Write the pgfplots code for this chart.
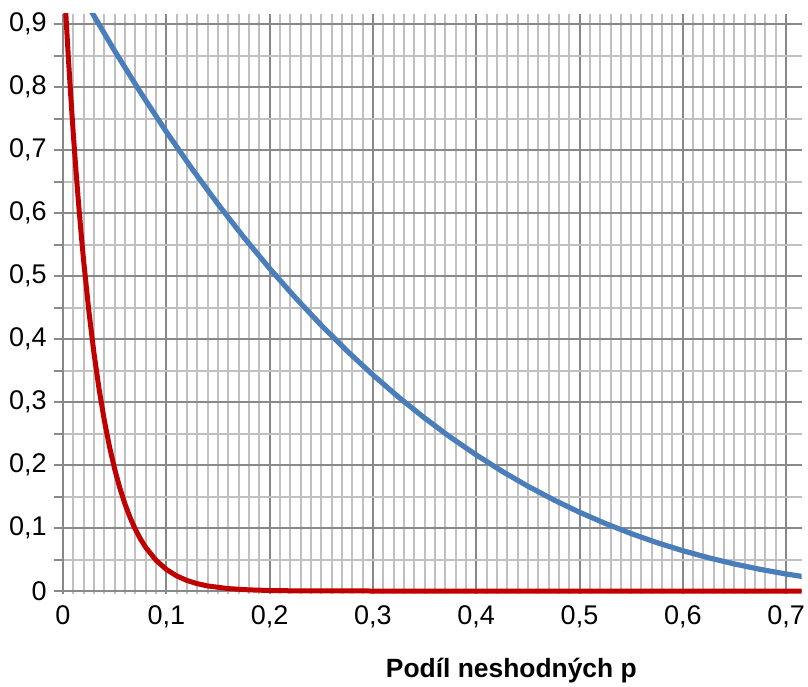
\documentclass[border=0pt]{standalone}
\usepackage{fontspec}
\setmainfont{Liberation Sans}
\usepackage{pgfplots}
\pgfplotsset{compat=1.18}
\definecolor{ocblue}{RGB}{74,126,187}
\definecolor{ocred}{RGB}{192,0,0}
\definecolor{gridmaj}{RGB}{137,137,137}
\definecolor{gridmin}{RGB}{192,192,192}

\begin{document}
\begin{tikzpicture}
\useasboundingbox (-31.5pt,-46.24pt) rectangle (372.5pt,296.76pt);
\begin{axis}[
    scale only axis,
    width=369.3pt, height=289.8pt,
    xmin=0, xmax=0.715,
    ymin=-0.004, ymax=0.916,
    axis lines*=left,
    x axis line style={draw=none},
    y axis line style={gridmaj, line width=1pt},
    xtick={0,0.1,0.2,0.3,0.4,0.5,0.6,0.7},
    ytick={0,0.1,0.2,0.3,0.4,0.5,0.6,0.7,0.8,0.9},
    minor x tick num=9,
    minor y tick num=1,
    grid=both,
    major grid style={gridmaj, line width=1pt},
    minor grid style={gridmin, line width=1pt},
    tick align=outside,
    major tick length=4.5pt,
    minor tick length=4.5pt,
    xtick style={draw=none},
    ytick style={gridmaj, line width=1pt},
    ticklabel style={font=\fontsize{13.5}{16}\selectfont},
    yticklabel style={anchor=east, inner sep=0pt, xshift=-3.5pt},
    xticklabel style={anchor=north, inner sep=0pt, yshift=-1.3pt},
    xlabel={\bfseries Podíl neshodných p},
    xlabel style={at={(axis cs:0.434,0)}, anchor=base, yshift=-43pt,
        font=\fontsize{13.2}{16}\selectfont},
    /pgf/number format/use comma,
    /pgf/number format/assume math mode=true,
  ]

  % blue curve
  \addplot[ocblue, line width=2.6pt] coordinates {
    (0,1) (0.025,0.926859) (0.05,0.857375) (0.075,0.791453) (0.1,0.729)
    (0.125,0.669922) (0.15,0.614125) (0.175,0.561516) (0.2,0.512)
    (0.225,0.465484) (0.25,0.421875) (0.275,0.381078) (0.3,0.343)
    (0.325,0.307547) (0.35,0.274625) (0.375,0.244141) (0.4,0.216)
    (0.425,0.190109) (0.45,0.166375) (0.475,0.144703) (0.5,0.125)
    (0.525,0.107172) (0.55,0.091125) (0.575,0.076766) (0.6,0.064)
    (0.625,0.052734) (0.65,0.042875) (0.675,0.034328) (0.7,0.027)
    (0.72,0.021952)
  };

  % red curve
  \addplot[ocred, line width=2.5pt] coordinates {
    (0,1) (0.0025,0.923) (0.005,0.852) (0.0075,0.786) (0.01,0.725)
    (0.0125,0.6687) (0.015,0.6166) (0.0175,0.5684) (0.02,0.5239)
    (0.025,0.4448) (0.03,0.3773) (0.035,0.3198) (0.04,0.2708)
    (0.045,0.2291) (0.05,0.1937) (0.055,0.1636) (0.06,0.1381)
    (0.065,0.1164) (0.07,0.0980) (0.075,0.0825) (0.08,0.0694)
    (0.09,0.0489) (0.1,0.0343) (0.11,0.0240) (0.12,0.0167)
    (0.13,0.0116) (0.14,0.0080) (0.16,0.0038) (0.18,0.0018)
    (0.2,0.0008) (0.22,0.00035) (0.25,0.0001) (0.3,0) (0.4,0)
    (0.5,0) (0.6,0) (0.72,0)
  };

\end{axis}
\end{tikzpicture}
\end{document}
